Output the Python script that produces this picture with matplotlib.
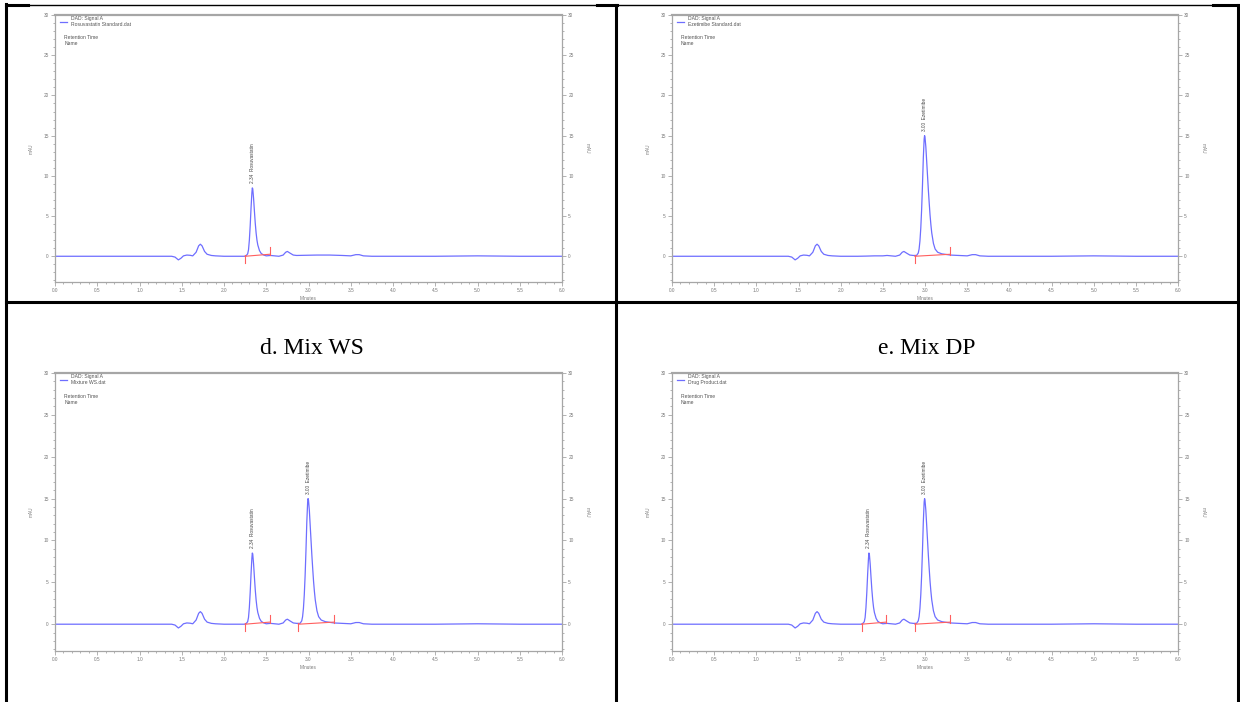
import numpy as np
import matplotlib
matplotlib.use("Agg")
import matplotlib.pyplot as plt
from matplotlib.lines import Line2D
from matplotlib.ticker import MultipleLocator, FormatStrFormatter

plt.rcParams['font.family'] = ['Liberation Sans', 'DejaVu Sans']

# background trace (minutes, mAU)
BG_TIME = [0.0, 1.00, 1.38, 1.42, 1.46, 1.49, 1.52, 1.56, 1.60, 1.63, 1.67, 1.70, 1.72,
           1.74, 1.77, 1.80, 1.85, 1.90, 2.00, 2.20, 2.30, 2.40, 2.50, 2.55, 2.60, 2.65,
           2.70, 2.73, 2.75, 2.78, 2.82, 2.86, 2.95, 3.10, 3.25, 3.40, 3.50, 3.56,
           3.60, 3.65, 3.75, 4.50, 5.00, 5.50, 6.00]
BG_MAU = [0.0, 0.0, 0.0, -0.1, -0.45, -0.25, 0.05, 0.15, 0.12, 0.05, 0.5, 1.3, 1.5,
          1.3, 0.6, 0.25, 0.1, 0.05, 0.0, 0.0, 0.02, 0.05, 0.05, 0.1, 0.05, 0.0,
          0.15, 0.5, 0.6, 0.4, 0.15, 0.1, 0.12, 0.15, 0.15, 0.1, 0.05, 0.2,
          0.2, 0.05, 0.0, 0.0, 0.05, 0.0, 0.0]

# rosuvastatin peak segment
ROSU_TIME = [2.24, 2.26, 2.28, 2.29, 2.30, 2.31, 2.32, 2.33, 2.335, 2.34, 2.35, 2.36,
             2.37, 2.38, 2.39, 2.40, 2.42, 2.44, 2.47, 2.50]
ROSU_MAU = [0.0, 0.05, 0.3, 0.8, 2.0, 3.8, 6.0, 7.9, 8.5, 8.4, 7.2, 5.6,
            4.1, 2.9, 2.0, 1.4, 0.7, 0.35, 0.15, 0.05]

# ezetimibe peak segment
EZET_TIME = [2.88, 2.90, 2.92, 2.93, 2.94, 2.95, 2.96, 2.97, 2.98, 2.99, 2.995, 3.00,
             3.01, 3.02, 3.03, 3.04, 3.05, 3.06, 3.07, 3.08, 3.10, 3.12, 3.15, 3.20,
             3.30]
EZET_MAU = [0.1, 0.1, 0.4, 0.9, 1.9, 3.5, 5.8, 8.8, 12.2, 14.6, 15.0, 14.8,
            13.6, 11.8, 10.0, 8.2, 6.6, 5.1, 3.9, 2.9, 1.6, 0.9, 0.5, 0.3,
            0.15]

PEAK_LABELS = {"rosu": "2.34  Rosuvastatin", "ezet": "3.00  Ezetimibe"}
PEAK_RT = {"rosu": 2.335, "ezet": 2.995}
PEAK_TOP = {"rosu": 8.5, "ezet": 15.0}
# integration baselines: (start time, start mAU, end time, end mAU)
BASELINES = {"rosu": (2.25, 0.0, 2.54, 0.25), "ezet": (2.88, 0.0, 3.30, 0.25)}
SEGMENTS = {"rosu": (ROSU_TIME, ROSU_MAU), "ezet": (EZET_TIME, EZET_MAU)}

PANEL_FILES = ["Rosuvastatin Standard.dat", "Ezetimibe Standard.dat",
               "Mixture WS.dat", "Drug Product.dat"]
PANEL_PEAKS = [["rosu"], ["ezet"], ["rosu", "ezet"], ["rosu", "ezet"]]
CELL_TITLES = ["d. Mix WS", "e. Mix DP"]

W, H = 1240, 702
TRACE = '#6e6eff'
RED = '#ff5f5f'
GREY = '#a6a6a6'
TXT = '#7a7a7a'


def build_trace(peaks):
    t = np.array(BG_TIME)
    y = np.array(BG_MAU)
    for p in peaks:
        st, sy = SEGMENTS[p]
        keep = (t < st[0]) | (t > st[-1])
        t = np.concatenate([t[keep], st])
        y = np.concatenate([y[keep], sy])
    order = np.argsort(t)
    return t[order], y[order]


def rect(x0, x1, ytop, ybot):
    return [x0 / W, 1 - ybot / H, (x1 - x0) / W, (ybot - ytop) / H]


def draw_panel(ax, fname, peaks):
    t, y = build_trace(peaks)
    ax.plot(t, y, color=TRACE, lw=0.9, label="DAD: Signal A\n" + fname)
    for p in peaks:
        t0, y0, t1, y1 = BASELINES[p]
        ax.plot([t0, t1], [y0, y1], color=RED, lw=0.8)
        ax.plot([t0, t0], [y0 - 0.8, y0 + 0.2], color=RED, lw=0.8)
        ax.plot([t1, t1], [y1 - 0.1, y1 + 0.9], color=RED, lw=0.8)
        ax.text(PEAK_RT[p], PEAK_TOP[p] + 0.6, PEAK_LABELS[p], rotation=90,
                ha='center', va='bottom', fontsize=3.4, color='#444444')

    ax.set_xlim(0, 6)
    ax.set_ylim(-3.2, 30)
    ax.xaxis.set_major_locator(MultipleLocator(0.5))
    ax.xaxis.set_minor_locator(MultipleLocator(0.1))
    ax.xaxis.set_major_formatter(FormatStrFormatter('%.1f'))
    ax.yaxis.set_major_locator(MultipleLocator(5))
    ax.yaxis.set_minor_locator(MultipleLocator(1))
    ax.tick_params(which='both', colors=GREY, labelcolor=TXT, labelsize=3.4,
                   width=0.6, pad=1.5, left=True, right=True, labelright=True)
    ax.tick_params(which='major', length=3)
    ax.tick_params(which='minor', length=1.5)
    for s in ax.spines.values():
        s.set_color(GREY)
        s.set_linewidth(0.9)
    ax.spines['top'].set_linewidth(1.6)

    ax.set_xlabel("Minutes", fontsize=3.4, color=TXT, labelpad=2)
    ax.set_ylabel("mAU", fontsize=3.4, color=TXT)
    ax.yaxis.set_label_coords(-0.043, 0.5)
    ax.text(1.05, 0.5, "mAU", rotation=-90, transform=ax.transAxes,
            fontsize=3.4, color=TXT, ha='center', va='center')

    leg = ax.legend(loc='upper left', bbox_to_anchor=(0.004, 1.005), frameon=False,
                    fontsize=3.6, handlelength=1.5, handletextpad=0.7,
                    borderpad=0.3, borderaxespad=0.2)
    for txt in leg.get_texts():
        txt.set_color('#555555')
    ax.text(0.018, 0.925, "Retention Time\nName", transform=ax.transAxes,
            fontsize=3.6, color='#555555', va='top', ha='left', linespacing=1.2)


fig = plt.figure(figsize=(W / 100, H / 100), dpi=100)
boxes = [rect(55, 562, 15, 282), rect(672, 1178, 15, 282),
         rect(55, 562, 373, 651), rect(672, 1178, 373, 651)]
for box, fname, peaks in zip(boxes, PANEL_FILES, PANEL_PEAKS):
    ax = fig.add_axes(box)
    draw_panel(ax, fname, peaks)

# cell titles of the lower row
for cx, title in zip([312, 927], CELL_TITLES):
    fig.text(cx / W, 1 - 349 / H, title, ha='center', va='center', fontsize=17,
             family=['Liberation Serif', 'DejaVu Serif'], color='black')


# table rules
def rule(x0, y0, x1, y1, lw):
    fig.add_artist(Line2D([x0 / W, x1 / W], [1 - y0 / H, 1 - y1 / H],
                          color='black', lw=lw, transform=fig.transFigure))


rule(28, 5, 1213, 5, 1.0)
rule(6, 5, 28, 5, 2.2)
rule(597, 5, 617, 5, 2.2)
rule(1213, 5, 1240, 5, 2.2)
rule(6, 4, 6, 702, 2.2)
rule(616, 5, 616, 702, 2.2)
rule(1238, 5, 1238, 702, 2.2)
rule(6, 302, 1238, 302, 2.2)

fig.savefig("out.png", dpi=100)
